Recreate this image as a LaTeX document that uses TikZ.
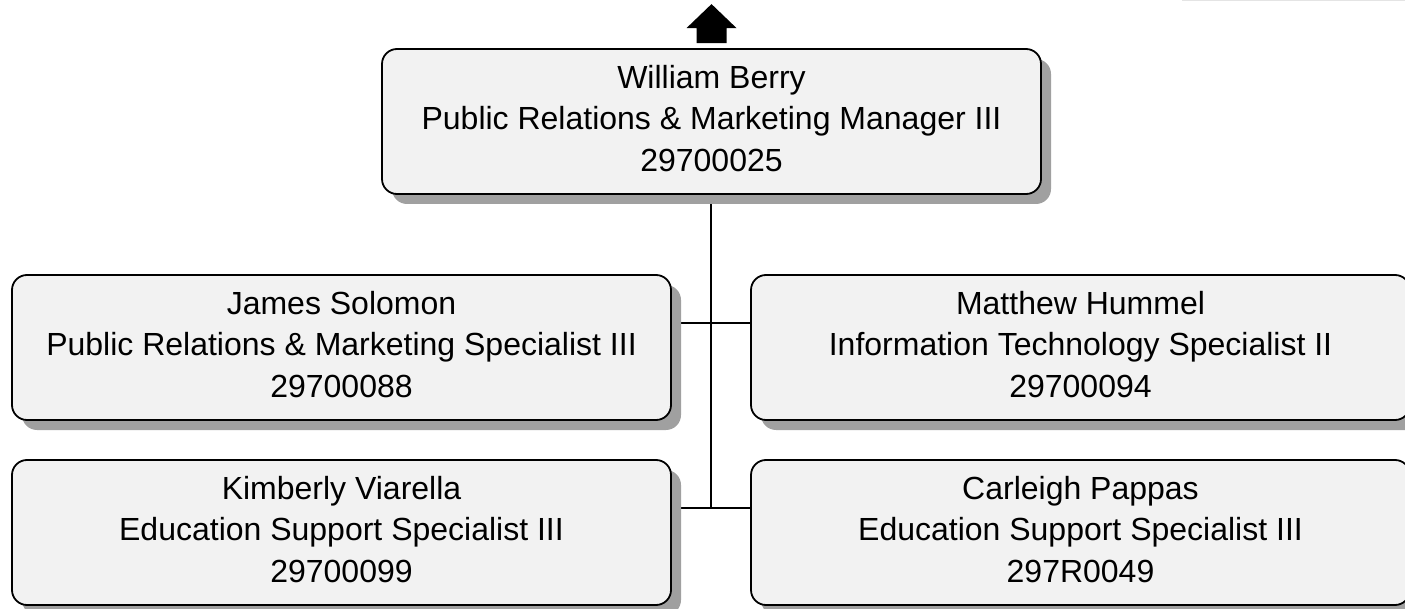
\documentclass[tikz,border=0pt]{standalone}
\usepackage{fontspec}
\setmainfont{Liberation Sans}
\usetikzlibrary{shadows}
\definecolor{boxfill}{HTML}{F2F2F2}
\definecolor{shadowgray}{HTML}{A0A0A0}
\definecolor{faintline}{HTML}{E4E4E4}
\pgfdeclarelayer{background}
\pgfsetlayers{background,main}
\begin{document}
\begin{tikzpicture}[x=1pt,y=-1pt,
  person/.style={draw=black, line width=1.8pt, fill=boxfill, rounded corners=15pt,
    minimum width=659pt, minimum height=145pt, inner sep=0pt, align=center,
    text depth=6.5pt,
    font=\fontsize{32}{41.5}\selectfont,
    drop shadow={shadow xshift=10pt, shadow yshift=-10pt, fill=shadowgray, opacity=1, draw=none}},
  link/.style={draw=black, line width=2.2pt}]
\useasboundingbox (0,0) rectangle (1405,609);
\clip (0,0) rectangle (1405,609);
\draw[faintline, line width=1.2pt] (1182,0.6) -- (1405,0.6);
\node[person] (top) at (711.5,121.5) {William Berry\\Public Relations \& Marketing Manager III\\29700025};
\node[person] (l1) at (341.5,347.5) {James Solomon\\Public Relations \& Marketing Specialist III\\29700088};
\node[person] (r1) at (1080.5,347.5) {Matthew Hummel\\Information Technology Specialist II\\29700094};
\node[person] (l2) at (341.5,532.5) {Kimberly Viarella\\Education Support Specialist III\\29700099};
\node[person] (r2) at (1080.5,532.5) {Carleigh Pappas\\Education Support Specialist III\\297R0049};
\fill[black] (top.north) ++(0,-44) -- ++(25,24) -- ++(-10,0) -- ++(0,15) -- ++(-30,0) -- ++(0,-15) -- ++(-10,0) -- cycle;
\coordinate (j1) at (711,323);
\coordinate (j2) at (711,508);
\begin{pgfonlayer}{background}
\draw[link] (top.south -| j1) -- (j2);
\draw[link] (l1.east |- j1) -- (r1.west |- j1);
\draw[link] (l2.east |- j2) -- (r2.west |- j2);
\end{pgfonlayer}
\end{tikzpicture}
\end{document}
